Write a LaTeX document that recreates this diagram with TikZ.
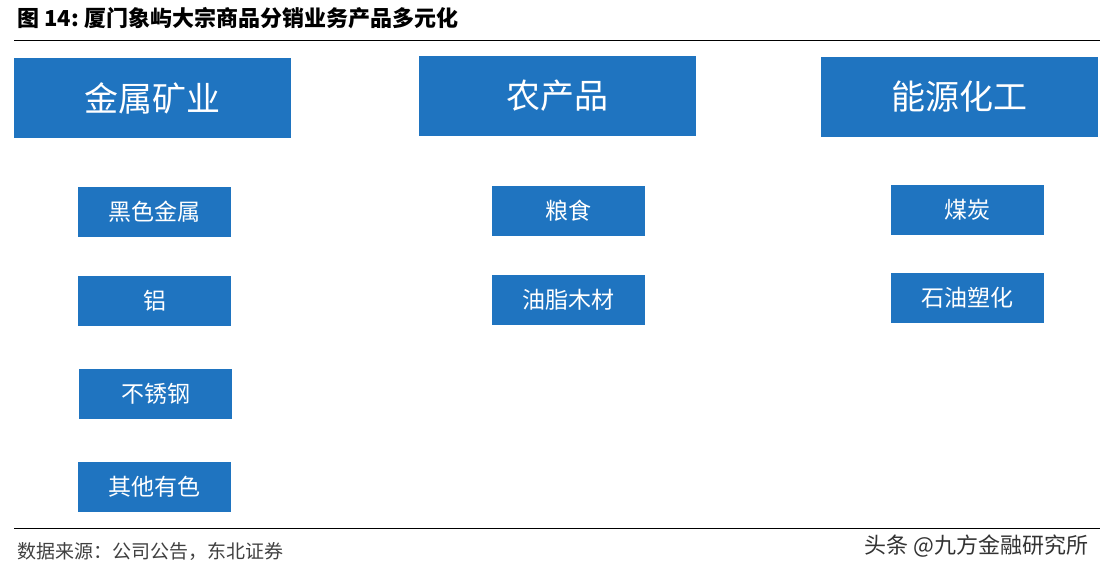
\documentclass[tikz,border=0pt]{standalone}
\usepackage{fontspec}
\setmainfont{Noto Sans CJK SC}
\usetikzlibrary{positioning}
\definecolor{boxblue}{RGB}{31,116,192}
\begin{document}
\begin{tikzpicture}[x=1pt,y=-1pt]
\tikzstyle{bigbox}=[fill=boxblue,text=white,minimum width=277pt,minimum height=80pt,inner sep=0pt,font=\fontsize{34}{34}\selectfont]
\tikzstyle{smallbox}=[fill=boxblue,text=white,minimum width=153pt,minimum height=50pt,inner sep=0pt,font=\fontsize{23}{23}\selectfont]
\useasboundingbox (0,0) rectangle (1106,576);
\node [anchor=west,font=\bfseries\fontsize{22}{22}\selectfont] at (14,18) (title) {图\ 14:\ 厦门象屿大宗商品分销业务产品多元化};
\draw [line width=1pt] (14,40) -- (1100,40);
\node [bigbox] at (152.5,98) (metal) {金属矿业};
\node [bigbox] at (557.5,96) (agri) {农产品};
\node [bigbox] at (959.5,97) (energy) {能源化工};
\node [smallbox] at (154.5,212) (m1) {黑色金属};
\node [smallbox] at (154.5,301) (m2) {铝};
\node [smallbox] at (155.5,394) (m3) {不锈钢};
\node [smallbox] at (154.5,487) (m4) {其他有色};
\node [smallbox] at (568.5,211) (a1) {粮食};
\node [smallbox] at (568.5,300) (a2) {油脂木材};
\node [smallbox] at (967.5,210) (e1) {煤炭};
\node [smallbox] at (967.5,298) (e2) {石油塑化};
\draw [line width=1pt] (14,528) -- (1100,528);
\node [anchor=west,text=black!75,font=\fontsize{19}{19}\selectfont] at (14,551) (source) {数据来源：公司公告，东北证券};
\node [anchor=east,text=black!80,font=\fontsize{22}{22}\selectfont] at (1092,546) (mark) {头条 @九方金融研究所};
\end{tikzpicture}
\end{document}
